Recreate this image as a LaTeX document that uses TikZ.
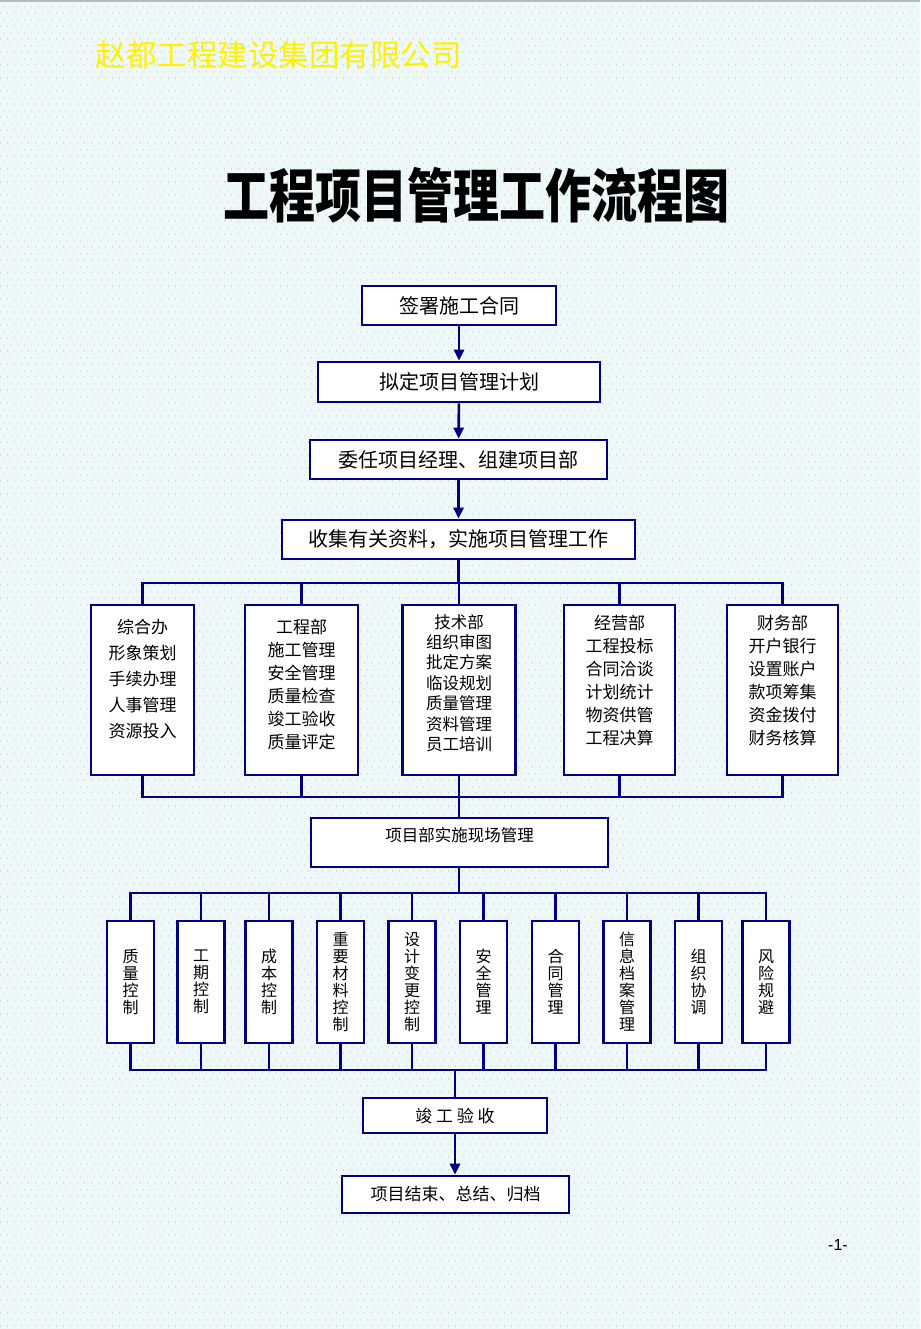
\documentclass[tikz,border=0pt]{standalone}
\usepackage{fontspec}
\setmainfont{Noto Sans CJK SC}
\newfontfamily\arialf{Liberation Sans}
\usetikzlibrary{arrows.meta,patterns.meta}
\definecolor{navy}{RGB}{0,0,128}
\definecolor{bgc}{RGB}{238,248,248}
\definecolor{dotc}{RGB}{175,188,188}
\tikzdeclarepattern{
  name=bgdots,
  type=uncolored,
  bottom left={(0pt,0pt)},
  top right={(7pt,13pt)},
  tile size={(7pt,13pt)},
  code={\fill (1.75pt,3.25pt) circle[radius=0.6pt];
        \fill (5.25pt,9.75pt) circle[radius=0.6pt];}
}
\begin{document}
\begin{tikzpicture}[x=1pt,y=-1pt,
  box/.style={draw=navy,line width=2.6pt,fill=white,inner sep=0pt},
  conn/.style={draw=navy,line width=2.6pt},
  arr/.style={conn,-{Triangle[length=11pt,width=10pt]}},
  mainbox/.style={box,minimum height=39pt,font=\fontsize{20}{24}\selectfont},
  dept/.style={box,minimum height=170pt},
  depttext/.style={align=center,inner sep=0pt},
  vbox/.style={box,minimum width=47pt,minimum height=122pt,align=center,font=\fontsize{16}{17}\selectfont},
  endbox/.style={box,font=\fontsize{17}{20}\selectfont},
]
\useasboundingbox (0,0) rectangle (920,1329);
\fill[bgc] (0,0) rectangle (920,1329);
\fill[pattern=bgdots,pattern color=dotc] (0,0) rectangle (920,1329);
\fill[gray!55] (0,0) rectangle (920,2);

% headers
\node[text=yellow,font=\fontsize{30.5}{34}\selectfont,inner sep=0pt] (company) at (278.5,55) {赵都工程建设集团有限公司};
\node[font=\fontsize{50}{56}\selectfont\bfseries,inner sep=0pt] (title) at (476.5,195) {\scalebox{0.92}[1.16]{工程项目管理工作流程图}};

% main chain
\node[mainbox,minimum width=194pt] (n1) at (459,305.5) {签署施工合同};
\node[mainbox,minimum width=282pt,minimum height=40pt] (n2) at (459,382) {拟定项目管理计划};
\node[mainbox,minimum width=297pt] (n3) at (458.5,459.5) {委任项目经理、组建项目部};
\node[mainbox,minimum width=353pt] (n4) at (458.5,539.5) {收集有关资料，实施项目管理工作};
\draw[arr] (n1) -- (n2);
\draw[arr] (n2) -- (n3);
\draw[arr] (n3) -- (n4);

% departments
\coordinate (busA) at (459,583);
\coordinate (busB) at (459,797);
\node[dept,minimum width=103pt] (d1) at (142.5,690) {};
\node[dept,minimum width=113pt] (d2) at (301.5,690) {};
\node[dept,minimum width=113pt] (d3) at (459,690) {};
\node[dept,minimum width=111pt] (d4) at (619.5,690) {};
\node[dept,minimum width=111pt] (d5) at (782.5,690) {};
\node[depttext,font=\fontsize{17}{26}\selectfont] (t1) at (142.5,679) {综合办\\形象策划\\手续办理\\人事管理\\资源投入};
\node[depttext,font=\fontsize{17}{23}\selectfont] (t2) at (301.5,684.5) {工程部\\施工管理\\安全管理\\质量检查\\竣工验收\\质量评定};
\node[depttext,font=\fontsize{16.5}{20.4}\selectfont] (t3) at (459,683) {技术部\\组织审图\\批定方案\\临设规划\\质量管理\\资料管理\\员工培训};
\node[depttext,font=\fontsize{17}{23}\selectfont] (t4) at (619.5,680.5) {经营部\\工程投标\\合同洽谈\\计划统计\\物资供管\\工程决算};
\node[depttext,font=\fontsize{17}{23}\selectfont] (t5) at (782.5,680.5) {财务部\\开户银行\\设置账户\\款项筹集\\资金拨付\\财务核算};

\draw[conn] (n4.south) -- (n4.south |- busA);
\draw[conn] (d1.north) -- (d1.north |- busA) -- (d5.north |- busA) -- (d5.north);
\foreach \d in {d2,d3,d4} \draw[conn] (\d.north) -- (\d.north |- busA);
\draw[conn] (d1.south) -- (d1.south |- busB) -- (d5.south |- busB) -- (d5.south);
\foreach \d in {d2,d3,d4} \draw[conn] (\d.south) -- (\d.south |- busB);

% site management
\node[box,minimum width=297pt,minimum height=49pt] (m) at (459.5,842.5) {};
\node[inner sep=0pt,font=\fontsize{16.5}{20}\selectfont] (mt) at (459.5,835) {项目部实施现场管理};
\draw[conn] (busB) -- (busB |- m.north);

% control boxes
\coordinate (busC) at (459,893);
\coordinate (busD) at (455,1070);
\node[vbox] (c1) at (130.5,982) {质\\量\\控\\制};
\node[vbox] (c2) at (201,982) {工\\期\\控\\制};
\node[vbox] (c3) at (269,982) {成\\本\\控\\制};
\node[vbox] (c4) at (340.5,982) {重\\要\\材\\料\\控\\制};
\node[vbox] (c5) at (412,982) {设\\计\\变\\更\\控\\制};
\node[vbox] (c6) at (483.5,982) {安\\全\\管\\理};
\node[vbox] (c7) at (555.5,982) {合\\同\\管\\理};
\node[vbox] (c8) at (627,982) {信\\息\\档\\案\\管\\理};
\node[vbox] (c9) at (698.5,982) {组\\织\\协\\调};
\node[vbox] (c10) at (766,982) {风\\险\\规\\避};

\draw[conn] (m.south -| busC) -- (busC);
\draw[conn] (c1.north) -- (c1.north |- busC) -- (c10.north |- busC) -- (c10.north);
\foreach \c in {c2,c3,c4,c5,c6,c7,c8,c9} \draw[conn] (\c.north) -- (\c.north |- busC);
\draw[conn] (c1.south) -- (c1.south |- busD) -- (c10.south |- busD) -- (c10.south);
\foreach \c in {c2,c3,c4,c5,c6,c7,c8,c9} \draw[conn] (\c.south) -- (\c.south |- busD);

% completion
\node[endbox,minimum width=184pt,minimum height=35pt] (e1) at (455,1115.5) {竣 工 验 收};
\node[endbox,minimum width=227pt,minimum height=37pt] (e2) at (455.5,1194.5) {项目结束、总结、归档};
\draw[conn] (busD) -- (busD |- e1.north);
\draw[arr] (e1.south) -- (e1.south |- e2.north);

\node[inner sep=0pt,font=\arialf\fontsize{16}{18}\selectfont] (pg) at (838,1245) {-1-};
\end{tikzpicture}
\end{document}
